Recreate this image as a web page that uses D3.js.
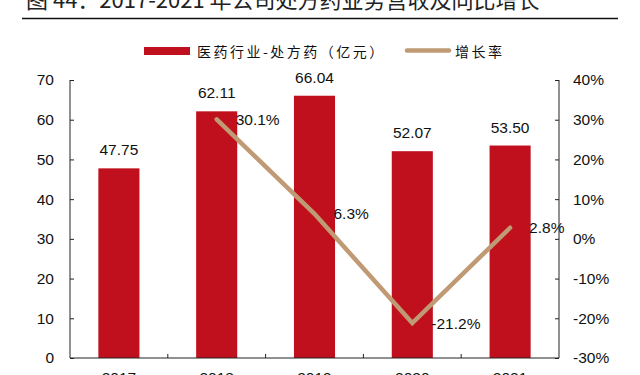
<!DOCTYPE html>
<html>
<head>
<meta charset="utf-8">
<script src="https://cdn.jsdelivr.net/npm/d3@7"></script>
<style>
  html, body { margin: 0; padding: 0; background: #fff; overflow: hidden; }
  text { font-family: "Liberation Sans", Arial, sans-serif; fill: #111; }
  .cjk { font-family: "Noto Sans CJK SC", sans-serif; }
  .axis path, .axis line { stroke: #222; }
</style>
</head>
<body>
<div id="chart"></div>
<script>
// data
var years = ['2017', '2018', '2019', '2020', '2021'];
var revenue = [47.75, 62.11, 66.04, 52.07, 53.50];
var growth = [null, 30.1, 6.3, -21.2, 2.8];
var leftTicks = [0, 10, 20, 30, 40, 50, 60, 70];
var rightTicks = [-30, -20, -10, 0, 10, 20, 30, 40];

var width = 640, height = 375,
    plotLeft = 70, plotRight = 559, plotTop = 80, plotBottom = 358,
    red = '#c00f1d', tan = '#bf9a74';

var svg = d3.select('#chart')
    .append('svg')
    .attr('width', width)
    .attr('height', height);

// title, cut off by the top of the frame
svg.append('text')
    .classed('cjk', true)
    .attr('x', 26)
    .attr('y', 8)
    .attr('font-size', 22)
    .style('font-weight', 400)
    .style('fill', '#222')
    .text('图 44：2017-2021 年公司处方药业务营收及同比增长');
svg.append('line')
    .attr('x1', 22).attr('x2', 618)
    .attr('y1', 18.5).attr('y2', 18.5)
    .attr('stroke', '#111')
    .attr('stroke-width', 1.5);

var x = d3.scaleBand().domain(years).range([plotLeft, plotRight]);
var y = d3.scaleLinear().domain([0, 70]).range([plotBottom, plotTop]);
var y2 = d3.scaleLinear().domain([-30, 40]).range([plotBottom, plotTop]);
var barW = x.bandwidth() * 0.42;

// axes
var yAxis = svg.append('g')
    .classed('axis', true)
    .attr('transform', 'translate(' + plotLeft + ',0)')
    .call(d3.axisLeft(y).tickValues(leftTicks).tickSize(-4).tickPadding(16)
      .tickFormat(d3.format('d')));
var y2Axis = svg.append('g')
    .classed('axis', true)
    .attr('transform', 'translate(' + plotRight + ',0)')
    .call(d3.axisRight(y2).tickValues(rightTicks).tickSize(-4).tickPadding(14)
      .tickFormat(function (d) { return d + '%'; }));
[yAxis, y2Axis].forEach(function (a) {
  a.select('.domain').attr('d', 'M0,' + plotTop + 'V' + plotBottom);
  a.selectAll('text')
      .attr('font-size', 15.5)
      .style('font-family', '"Liberation Sans", Arial, sans-serif');
});

// bars
svg.append('g')
    .selectAll('rect')
    .data(revenue)
    .enter()
    .append('rect')
    .attr('x', function (d, i) { return x(years[i]) + (x.bandwidth() - barW) / 2; })
    .attr('y', function (d) { return y(d); })
    .attr('width', barW)
    .attr('height', function (d) { return plotBottom - y(d); })
    .attr('fill', red);

// x axis drawn over bars
var xAxis = svg.append('g')
    .classed('axis', true)
    .attr('transform', 'translate(0,' + plotBottom + ')');
xAxis.append('line')
    .attr('x1', plotLeft).attr('x2', plotRight)
    .attr('stroke', '#222');
xAxis.selectAll('line.tick')
    .data(years.slice(1))
    .enter()
    .append('line')
    .classed('tick', true)
    .attr('x1', function (d) { return x(d); })
    .attr('x2', function (d) { return x(d); })
    .attr('y1', 0).attr('y2', -4)
    .attr('stroke', '#222');
xAxis.selectAll('text')
    .data(years)
    .enter()
    .append('text')
    .attr('x', function (d) { return x(d) + x.bandwidth() / 2; })
    .attr('y', 25)
    .attr('text-anchor', 'middle')
    .attr('font-size', 15.5)
    .text(function (d) { return d; });

// bar values
svg.append('g')
    .selectAll('text')
    .data(revenue)
    .enter()
    .append('text')
    .attr('x', function (d, i) { return x(years[i]) + x.bandwidth() / 2; })
    .attr('y', function (d) { return y(d) - 13; })
    .attr('text-anchor', 'middle')
    .attr('font-size', 15.5)
    .text(function (d) { return d.toFixed(2); });

// growth line
var pts = growth.map(function (d, i) { return { year: years[i], v: d }; })
    .filter(function (d) { return d.v !== null; });
var line = d3.line()
    .x(function (d) { return x(d.year) + x.bandwidth() / 2; })
    .y(function (d) { return y2(d.v); });
svg.append('path')
    .datum(pts)
    .attr('d', line)
    .attr('fill', 'none')
    .attr('stroke', tan)
    .attr('stroke-width', 4.5)
    .attr('stroke-linecap', 'round')
    .attr('stroke-linejoin', 'miter');
svg.append('g')
    .selectAll('text')
    .data(pts)
    .enter()
    .append('text')
    .attr('x', function (d) { return x(d.year) + x.bandwidth() / 2 + 19; })
    .attr('y', function (d) { return y2(d.v); })
    .attr('dominant-baseline', 'central')
    .attr('font-size', 15.5)
    .text(function (d) { return d.v.toFixed(1) + '%'; });

// legend
var legend = svg.append('g');
legend.append('rect')
    .attr('x', 144).attr('y', 47)
    .attr('width', 46).attr('height', 8)
    .attr('fill', red);
legend.append('text')
    .classed('cjk', true)
    .attr('x', 197).attr('y', 51)
    .attr('dominant-baseline', 'central')
    .attr('font-size', 14)
    .style('letter-spacing', '2.5px')
    .text('医药行业-处方药（亿元）');
legend.append('line')
    .attr('x1', 407).attr('x2', 449)
    .attr('y1', 50.5).attr('y2', 50.5)
    .attr('stroke', tan)
    .attr('stroke-width', 4.5)
    .attr('stroke-linecap', 'round');
legend.append('text')
    .classed('cjk', true)
    .attr('x', 455).attr('y', 51)
    .attr('dominant-baseline', 'central')
    .attr('font-size', 14)
    .style('letter-spacing', '2.5px')
    .text('增长率');
</script>
</body>
</html>
